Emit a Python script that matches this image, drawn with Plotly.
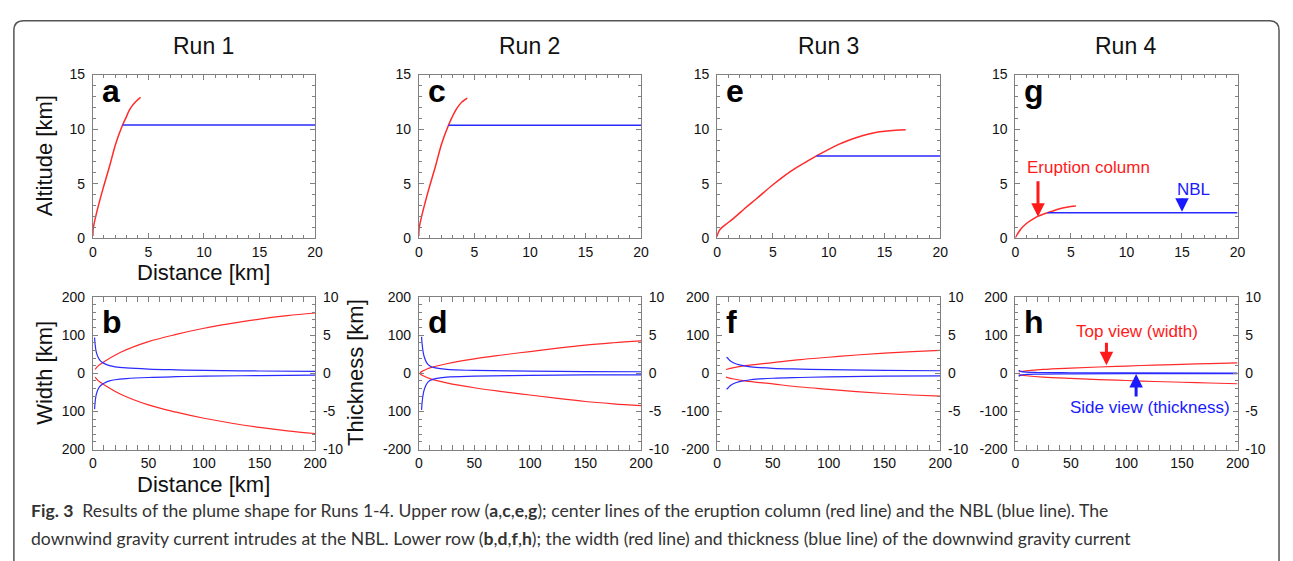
import plotly.graph_objects as go

W, H = 1293, 561

# ---------------- data ----------------
run_titles = ["Run 1", "Run 2", "Run 3", "Run 4"]
top_letters = ["a", "c", "e", "g"]
bot_letters = ["b", "d", "f", "h"]

# upper row: eruption column center line (red) and NBL (blue)
col_a_x = [0, 0.02, 0.1, 0.45, 0.9, 1.5, 2.07, 2.67, 3.0, 3.26, 3.55, 3.85, 4.1, 4.3]
col_a_y = [0.2, 0.8, 1.3, 2.8, 4.5, 6.6, 8.7, 10.37, 11.1, 11.7, 12.15, 12.5, 12.75, 12.9]
col_c_x = [0, 0.02, 0.1, 0.45, 0.9, 1.5, 2.07, 2.67, 3.0, 3.3, 3.6, 3.9, 4.15, 4.36]
col_c_y = [0.2, 0.8, 1.3, 2.8, 4.5, 6.6, 8.7, 10.35, 11.1, 11.7, 12.15, 12.5, 12.7, 12.85]
col_e_x = [0, 0.1, 0.3, 0.7, 1.5, 2.5, 3.5, 5, 6, 7, 8, 8.9, 10, 11, 12, 13, 14, 15, 16, 16.9]
col_e_y = [0.15, 0.5, 0.85, 1.2, 1.85, 2.75, 3.6, 4.9, 5.7, 6.4, 7.0, 7.54, 8.15, 8.65, 9.05, 9.4, 9.65, 9.8, 9.9, 9.95]
col_g_x = [0, 0.2, 0.5, 1, 1.5, 2, 2.5, 2.9, 3.5, 4, 4.5, 5, 5.45]
col_g_y = [0.05, 0.4, 0.85, 1.35, 1.7, 2.0, 2.2, 2.34, 2.55, 2.7, 2.82, 2.91, 2.96]

nbl_start = [2.67, 2.67, 8.9, 2.9]
nbl_alt = [10.37, 10.35, 7.54, 2.34]
nbl_end = 20

# lower row: half width (red, left axis) and half thickness (blue, right axis)
wid_b_x = [2, 5, 10, 25, 50, 75, 100, 125, 150, 175, 200]
wid_b_y = [10, 20, 30, 55, 83, 102, 118, 131, 142, 151, 158]
thk_b_x = [1.5, 2, 3, 5, 7, 10, 15, 20, 30, 50, 75, 100, 150, 200]
thk_b_y = [4.7, 3.8, 2.8, 2.0, 1.6, 1.3, 1.0, 0.85, 0.7, 0.55, 0.45, 0.38, 0.3, 0.25]

wid_d_x = [1, 3, 5, 10, 25, 50, 75, 100, 125, 150, 175, 200]
wid_d_y = [1, 5, 8, 14, 25, 38, 48, 57, 66, 74, 80, 85]
thk_d_x = [2.5, 3, 4, 5, 7, 10, 15, 25, 50, 100, 150, 200]
thk_d_y = [4.8, 3.8, 2.7, 2.1, 1.4, 0.95, 0.7, 0.5, 0.38, 0.28, 0.22, 0.2]

wid_f_x = [8, 15, 25, 50, 75, 100, 125, 150, 175, 200]
wid_f_y = [10, 15, 20, 28, 36, 42, 48, 53, 57, 60]
thk_f_x = [8.5, 10, 12, 15, 20, 30, 50, 75, 100, 150, 200]
thk_f_y = [2.1, 1.9, 1.6, 1.35, 1.1, 0.85, 0.65, 0.55, 0.47, 0.38, 0.33]

wid_h_x = [3, 10, 25, 50, 75, 100, 125, 150, 175, 200]
wid_h_y = [4, 6.5, 10, 13.5, 16.5, 19, 21.5, 23.5, 25.5, 27.5]
thk_h_x = [3, 5, 10, 20, 50, 100, 200]
thk_h_y = [0.4, 0.25, 0.15, 0.1, 0.07, 0.05, 0.04]

top_xticks = [0, 5, 10, 15, 20]
top_yticks = [0, 5, 10, 15]
bot_xticks = [0, 50, 100, 150, 200]
width_ticks = [200, 100, 0, -100, -200]
width_ticklabels = [
    ["200", "100", "0", "100", "200"],
    ["200", "100", "0", "100", "-200"],
    ["200", "100", "0", "-100", "-200"],
    ["200", "100", "0", "-100", "-200"],
]
thick_ticks = [10, 5, 0, -5, -10]
thick_ticklabels = ["10", "5", "0", "-5", "-10"]

caption_line1 = ("<b>Fig. 3</b>&nbsp;&nbsp;Results of the plume shape for Runs 1-4. Upper row "
                 "(<b>a</b>,<b>c</b>,<b>e</b>,<b>g</b>); center lines of the eruption column "
                 "(red line) and the NBL (blue line). The")
caption_line2 = ("downwind gravity current intrudes at the NBL. Lower row "
                 "(<b>b</b>,<b>d</b>,<b>f</b>,<b>h</b>); the width (red line) and thickness "
                 "(blue line) of the downwind gravity current")

# ---------------- layout helpers ----------------
RED = "#ff2a2a"
BLUE = "#2a2aff"
AXC = "#808080"
FONT = "Liberation Sans, Arial, sans-serif"

col_px = [(90, 315), (420, 645), (722, 948), (1024, 1249)]
top_py = (68.5, 237)
bot_py = (297.5, 454.5)


def px(x):
    return x / W


def py(y):
    return 1 - y / H


fig = go.Figure()
layout = dict(
    width=W, height=H, autosize=False,
    margin=dict(l=0, r=0, t=0, b=0),
    paper_bgcolor="white", plot_bgcolor="white",
    showlegend=False,
    font=dict(family=FONT, size=14, color="#111"),
)

common_axis = dict(
    showline=True, linecolor=AXC, linewidth=1, showgrid=False, zeroline=False,
    ticks="inside", ticklen=5, tickcolor=AXC, tickwidth=1,
    tickfont=dict(family=FONT, size=14, color="#111"),
)
xaxis_common = dict(common_axis, ticklabelstandoff=1)
yaxis_common = dict(common_axis, ticklabelstandoff=4)

tops = [(col_a_x, col_a_y), (col_c_x, col_c_y), (col_e_x, col_e_y), (col_g_x, col_g_y)]
bots = [(wid_b_x, wid_b_y, thk_b_x, thk_b_y), (wid_d_x, wid_d_y, thk_d_x, thk_d_y),
        (wid_f_x, wid_f_y, thk_f_x, thk_f_y), (wid_h_x, wid_h_y, thk_h_x, thk_h_y)]

annotations = []
for k in range(4):
    xd = [px(col_px[k][0]), px(col_px[k][1])]
    # ---- top panel ----
    n = k + 1
    xa, ya = ("x" if n == 1 else f"x{n}"), ("y" if n == 1 else f"y{n}")
    layout[f"xaxis{n}"] = dict(xaxis_common, domain=xd, anchor=ya, range=[0, 20],
                               tickvals=top_xticks, mirror="allticks",
                               minor=dict(dtick=1, ticks="inside", ticklen=3, tickcolor=AXC))
    layout[f"yaxis{n}"] = dict(yaxis_common, domain=[py(top_py[1]), py(top_py[0])], anchor=xa,
                               range=[0, 15], tickvals=top_yticks, mirror="allticks",
                               minor=dict(dtick=1, ticks="inside", ticklen=3, tickcolor=AXC))
    cx, cy = tops[k]
    fig.add_trace(go.Scatter(x=cx, y=cy, mode="lines", line=dict(color=RED, width=1.5),
                             xaxis=xa, yaxis=ya, line_shape="spline"))
    fig.add_trace(go.Scatter(x=[nbl_start[k], nbl_end], y=[nbl_alt[k], nbl_alt[k]], mode="lines",
                             line=dict(color=BLUE, width=1.5), xaxis=xa, yaxis=ya))
    annotations.append(dict(text=f"<b>{top_letters[k]}</b>", xref="paper", yref="paper",
                            x=px(col_px[k][0] + 7), y=py(85), xanchor="left", yanchor="middle",
                            showarrow=False, font=dict(family=FONT, size=32, color="black")))
    annotations.append(dict(text=run_titles[k], xref="paper", yref="paper",
                            x=px((col_px[k][0] + col_px[k][1]) / 2), y=py(39),
                            xanchor="center", yanchor="middle", showarrow=False,
                            font=dict(family=FONT, size=23, color="#111")))

    # ---- bottom panel ----
    m = k + 5
    r = k + 9
    xb, yb, yr = f"x{m}", f"y{m}", f"y{r}"
    bd = [py(bot_py[1]), py(bot_py[0])]
    layout[f"xaxis{m}"] = dict(xaxis_common, domain=xd, anchor=yb, range=[0, 200],
                               tickvals=bot_xticks, mirror="allticks",
                               minor=dict(dtick=10, ticks="inside", ticklen=3, tickcolor=AXC))
    layout[f"yaxis{m}"] = dict(yaxis_common, domain=bd, anchor=xb, range=[-200, 200],
                               tickvals=width_ticks, ticktext=width_ticklabels[k],
                               minor=dict(dtick=20, ticks="inside", ticklen=3, tickcolor=AXC))
    layout[f"yaxis{r}"] = dict(yaxis_common, domain=bd, anchor=xb, overlaying=yb, side="right",
                               range=[-10, 10], tickvals=thick_ticks, ticktext=thick_ticklabels,
                               minor=dict(dtick=1, ticks="inside", ticklen=3, tickcolor=AXC))
    wx, wy, tx, ty = bots[k]
    fig.add_trace(go.Scatter(x=wx, y=wy, mode="lines", line=dict(color=RED, width=1.2),
                             xaxis=xb, yaxis=yb, line_shape="spline"))
    fig.add_trace(go.Scatter(x=wx, y=[-v for v in wy], mode="lines", line=dict(color=RED, width=1.2),
                             xaxis=xb, yaxis=yb, line_shape="spline"))
    fig.add_trace(go.Scatter(x=tx, y=ty, mode="lines", line=dict(color=BLUE, width=1.2),
                             xaxis=xb, yaxis=yr, line_shape="spline"))
    fig.add_trace(go.Scatter(x=tx, y=[-v for v in ty], mode="lines", line=dict(color=BLUE, width=1.2),
                             xaxis=xb, yaxis=yr, line_shape="spline"))
    annotations.append(dict(text=f"<b>{bot_letters[k]}</b>", xref="paper", yref="paper",
                            x=px(col_px[k][0] + 7), y=py(323), xanchor="left", yanchor="middle",
                            showarrow=False, font=dict(family=FONT, size=32, color="black")))

# axis titles (only on first column)
title_font = dict(family=FONT, size=22, color="#111")
annotations += [
    dict(text="Altitude [km]", xref="paper", yref="paper", x=px(41), y=py(152), textangle=-90,
         showarrow=False, xanchor="center", yanchor="middle", font=title_font),
    dict(text="Distance [km]", xref="paper", yref="paper", x=px(202), y=py(272),
         showarrow=False, xanchor="center", yanchor="middle", font=title_font),
    dict(text="Width [km]", xref="paper", yref="paper", x=px(41), y=py(375), textangle=-90,
         showarrow=False, xanchor="center", yanchor="middle", font=title_font),
    dict(text="Thickness [km]", xref="paper", yref="paper", x=px(356), y=py(375), textangle=-90,
         showarrow=False, xanchor="center", yanchor="middle", font=title_font),
    dict(text="Distance [km]", xref="paper", yref="paper", x=px(202), y=py(491),
         showarrow=False, xanchor="center", yanchor="middle", font=title_font),
]

# in-panel labels and arrows (panels g and h)
lab = 17
annotations += [
    dict(text="Eruption column", xref="x4", yref="y4", x=6.6, y=6.5, showarrow=False,
         font=dict(family=FONT, size=lab, color="#ff1a1a")),
    dict(text="", xref="x4", yref="y4", axref="x4", ayref="y4", x=2.04, y=1.98, ax=2.04, ay=5.35,
         showarrow=True, arrowhead=2, arrowsize=0.9, arrowwidth=3, arrowcolor="#ff1a1a"),
    dict(text="NBL", xref="x4", yref="y4", x=16, y=4.46, showarrow=False,
         font=dict(family=FONT, size=lab, color="#1a1aff")),
    dict(text="", xref="x4", yref="y4", axref="x4", ayref="y4", x=15, y=2.42, ax=15, ay=3.75,
         showarrow=True, arrowhead=2, arrowsize=0.9, arrowwidth=3, arrowcolor="#1a1aff"),
    dict(text="Top view (width)", xref="x8", yref="y8", x=109.6, y=110, showarrow=False,
         font=dict(family=FONT, size=lab, color="#ff1a1a")),
    dict(text="", xref="x8", yref="y8", axref="x8", ayref="y8", x=82, y=21, ax=82, ay=84,
         showarrow=True, arrowhead=2, arrowsize=0.9, arrowwidth=3, arrowcolor="#ff1a1a"),
    dict(text="Side view (thickness)", xref="x8", yref="y8", x=121, y=-91, showarrow=False,
         font=dict(family=FONT, size=lab, color="#1a1aff")),
    dict(text="", xref="x8", yref="y8", axref="x8", ayref="y8", x=108.7, y=-2, ax=108.7, ay=-65,
         showarrow=True, arrowhead=2, arrowsize=0.9, arrowwidth=3, arrowcolor="#1a1aff"),
]

# caption
cap_font = dict(family="Lato, Noto Sans, sans-serif", size=17.6, color="#333")
annotations += [
    dict(text=caption_line1, xref="paper", yref="paper", x=px(25), y=py(517), xanchor="left",
         yanchor="middle", showarrow=False, font=cap_font),
    dict(text=caption_line2, xref="paper", yref="paper", x=px(25), y=py(546), xanchor="left",
         yanchor="middle", showarrow=False, font=cap_font),
]

layout["annotations"] = annotations

# rounded border of the figure box
L, R, T, B = 10, 1291, 13, 600
rad = 10
path = (f"M {px(L)},{py(B)} L {px(L)},{py(T + rad)} "
        f"Q {px(L)},{py(T)} {px(L + rad)},{py(T)} "
        f"L {px(R - rad)},{py(T)} Q {px(R)},{py(T)} {px(R)},{py(T + rad)} "
        f"L {px(R)},{py(B)}")
layout["shapes"] = [dict(type="path", xref="paper", yref="paper", path=path,
                         line=dict(color="#555", width=1.5))]

fig.update_layout(**layout)
fig.write_html("out.html")
